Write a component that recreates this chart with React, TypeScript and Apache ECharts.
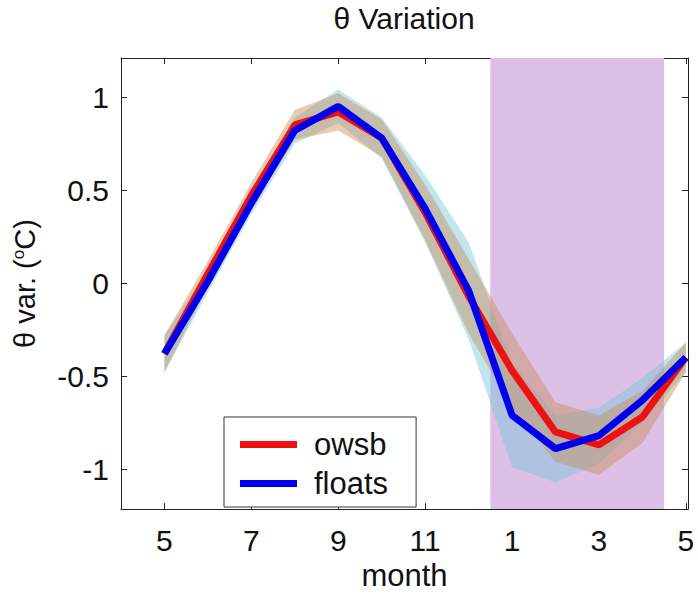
import React, { useEffect, useRef } from "react";
import * as echarts from "echarts";

// month index (5 = May of first year ... 17 = May of next year)
const monthIndex = [5, 6, 7, 8, 9, 10, 11, 12, 13, 14, 15, 16, 17];
const monthLabels = ["5", "6", "7", "8", "9", "10", "11", "12", "1", "2", "3", "4", "5"];
const tickIndex = [5, 7, 9, 11, 13, 15, 17];
const yTicks = [-1, -0.5, 0, 0.5, 1];

const owsb = [-0.38, 0.05, 0.47, 0.85, 0.92, 0.78, 0.38, -0.07, -0.47, -0.8, -0.87, -0.72, -0.4];
const owsbStd = [0.1, 0.07, 0.07, 0.08, 0.1, 0.1, 0.15, 0.2, 0.2, 0.16, 0.16, 0.14, 0.08];
const floats = [-0.38, 0.01, 0.43, 0.82, 0.95, 0.78, 0.4, -0.04, -0.71, -0.89, -0.82, -0.63, -0.4];
const floatsStd = [0.1, 0.06, 0.06, 0.07, 0.09, 0.11, 0.18, 0.26, 0.28, 0.18, 0.15, 0.12, 0.08];

const winterStart = 12.5;
const winterEnd = 16.5;

const FONT = "'Liberation Sans', Arial, Helvetica, sans-serif";

function labelFor(v: number): string {
  const i = monthIndex.indexOf(v);
  return i >= 0 ? monthLabels[i] : "";
}

function bandSeries(name: string, mean: number[], std: number[], fill: string, opacity: number, z: number) {
  const data = monthIndex.map((x, i) => [x, mean[i] - std[i], mean[i] + std[i]]);
  return {
    type: "custom",
    name,
    silent: true,
    z,
    data,
    encode: { x: 0, y: [1, 2] },
    renderItem: (params: any, api: any) => {
      if (params.dataIndex !== 0) return null;
      const upper = data.map((d) => api.coord([d[0], d[2]]));
      const lowerPts = data.map((d) => api.coord([d[0], d[1]])).reverse();
      return {
        type: "polygon",
        shape: { points: upper.concat(lowerPts) },
        style: { fill, opacity },
      };
    },
  };
}

export default function App() {
  const ref = useRef<HTMLDivElement>(null);
  useEffect(() => {
    if (!ref.current) return;
    const chart = echarts.init(ref.current, undefined, { renderer: "svg" });
    const line = (m: number[]) => monthIndex.map((x, i) => [x, m[i]]);
    const axisColor = "#222";
    chart.setOption({
      animation: false,
      grid: { left: 121, right: 10, top: 58, bottom: 75 },
      graphic: [
        {
          type: "text",
          x: 404,
          y: 18,
          style: {
            text: "θ Variation",
            font: `30px ${FONT}`,
            fill: "#111",
            textAlign: "center",
            textVerticalAlign: "middle",
          },
        },
      ],
      legend: {
        left: 224,
        top: 417,
        orient: "vertical",
        icon: "rect",
        itemWidth: 57,
        itemHeight: 7,
        itemGap: 8,
        padding: [12, 28, 8, 16],
        borderColor: "#333",
        borderWidth: 1,
        backgroundColor: "#fff",
        textStyle: { fontSize: 31, fontFamily: FONT, color: "#111", padding: [0, 0, 0, 12] },
        data: ["owsb", "floats"],
      },
      xAxis: [
        {
          type: "value",
          min: 4,
          max: 17.05,
          name: "month",
          nameLocation: "middle",
          nameGap: 38,
          nameTextStyle: { fontSize: 31, fontFamily: FONT, color: "#111" },
          axisLine: { show: true, onZero: false, lineStyle: { color: axisColor, width: 1 } },
          axisTick: { show: true, inside: true, length: 6, customValues: tickIndex, lineStyle: { color: axisColor } },
          axisLabel: {
            customValues: tickIndex,
            formatter: (v: number) => labelFor(v),
            fontSize: 30,
            fontFamily: FONT,
            color: "#111",
            margin: 16,
          },
          splitLine: { show: false },
        },
        {
          type: "value",
          position: "top",
          min: 4,
          max: 17.05,
          axisLine: { show: true, onZero: false, lineStyle: { color: axisColor, width: 1 } },
          axisTick: { show: true, inside: true, length: 6, customValues: tickIndex, lineStyle: { color: axisColor } },
          axisLabel: { show: false },
          splitLine: { show: false },
        },
      ],
      yAxis: [
        {
          type: "value",
          min: -1.215,
          max: 1.21,
          name: "{a|θ var. (}{sup|o}{a|C)}",
          nameLocation: "middle",
          nameGap: 82,
          nameRotate: 90,
          nameTextStyle: {
            fontFamily: FONT,
            color: "#111",
            rich: {
              a: { fontSize: 29, fontFamily: FONT, color: "#111" },
              sup: { fontSize: 17, fontFamily: FONT, color: "#111", verticalAlign: "top", padding: [0, 0, 12, 0] },
            },
          },
          axisLine: { show: true, onZero: false, lineStyle: { color: axisColor, width: 1 } },
          axisTick: { show: true, inside: true, length: 6, customValues: yTicks, lineStyle: { color: axisColor } },
          axisLabel: {
            customValues: yTicks,
            formatter: (v: number) => String(v),
            fontSize: 30,
            fontFamily: FONT,
            color: "#111",
            margin: 12,
          },
          splitLine: { show: false },
        },
        {
          type: "value",
          position: "right",
          min: -1.215,
          max: 1.21,
          axisLine: { show: true, onZero: false, lineStyle: { color: axisColor, width: 1 } },
          axisTick: { show: true, inside: true, length: 6, customValues: yTicks, lineStyle: { color: axisColor } },
          axisLabel: { show: false },
          splitLine: { show: false },
        },
      ],
      series: [
        {
          type: "line",
          name: "winter",
          data: [],
          silent: true,
          z: 0,
          markArea: {
            silent: true,
            itemStyle: { color: "#dcc0e6", opacity: 1 },
            data: [[{ xAxis: winterStart }, { xAxis: winterEnd }]],
          },
        },
        bandSeries("floatsBand", floats, floatsStd, "rgb(120,200,220)", 0.45, 1),
        bandSeries("owsbBand", owsb, owsbStd, "rgb(200,140,90)", 0.45, 2),
        {
          type: "line",
          name: "owsb",
          symbol: "none",
          data: line(owsb),
          color: "#ee1111",
          lineStyle: { color: "#ee1111", width: 7 },
          z: 5,
        },
        {
          type: "line",
          name: "floats",
          symbol: "none",
          data: line(floats),
          color: "#0000ee",
          lineStyle: { color: "#0000ee", width: 7 },
          z: 6,
        },
      ],
    });
    return () => chart.dispose();
  }, []);
  return <div ref={ref} style={{ position: "absolute", left: 0, top: 0, width: 698, height: 596 }} />;
}
